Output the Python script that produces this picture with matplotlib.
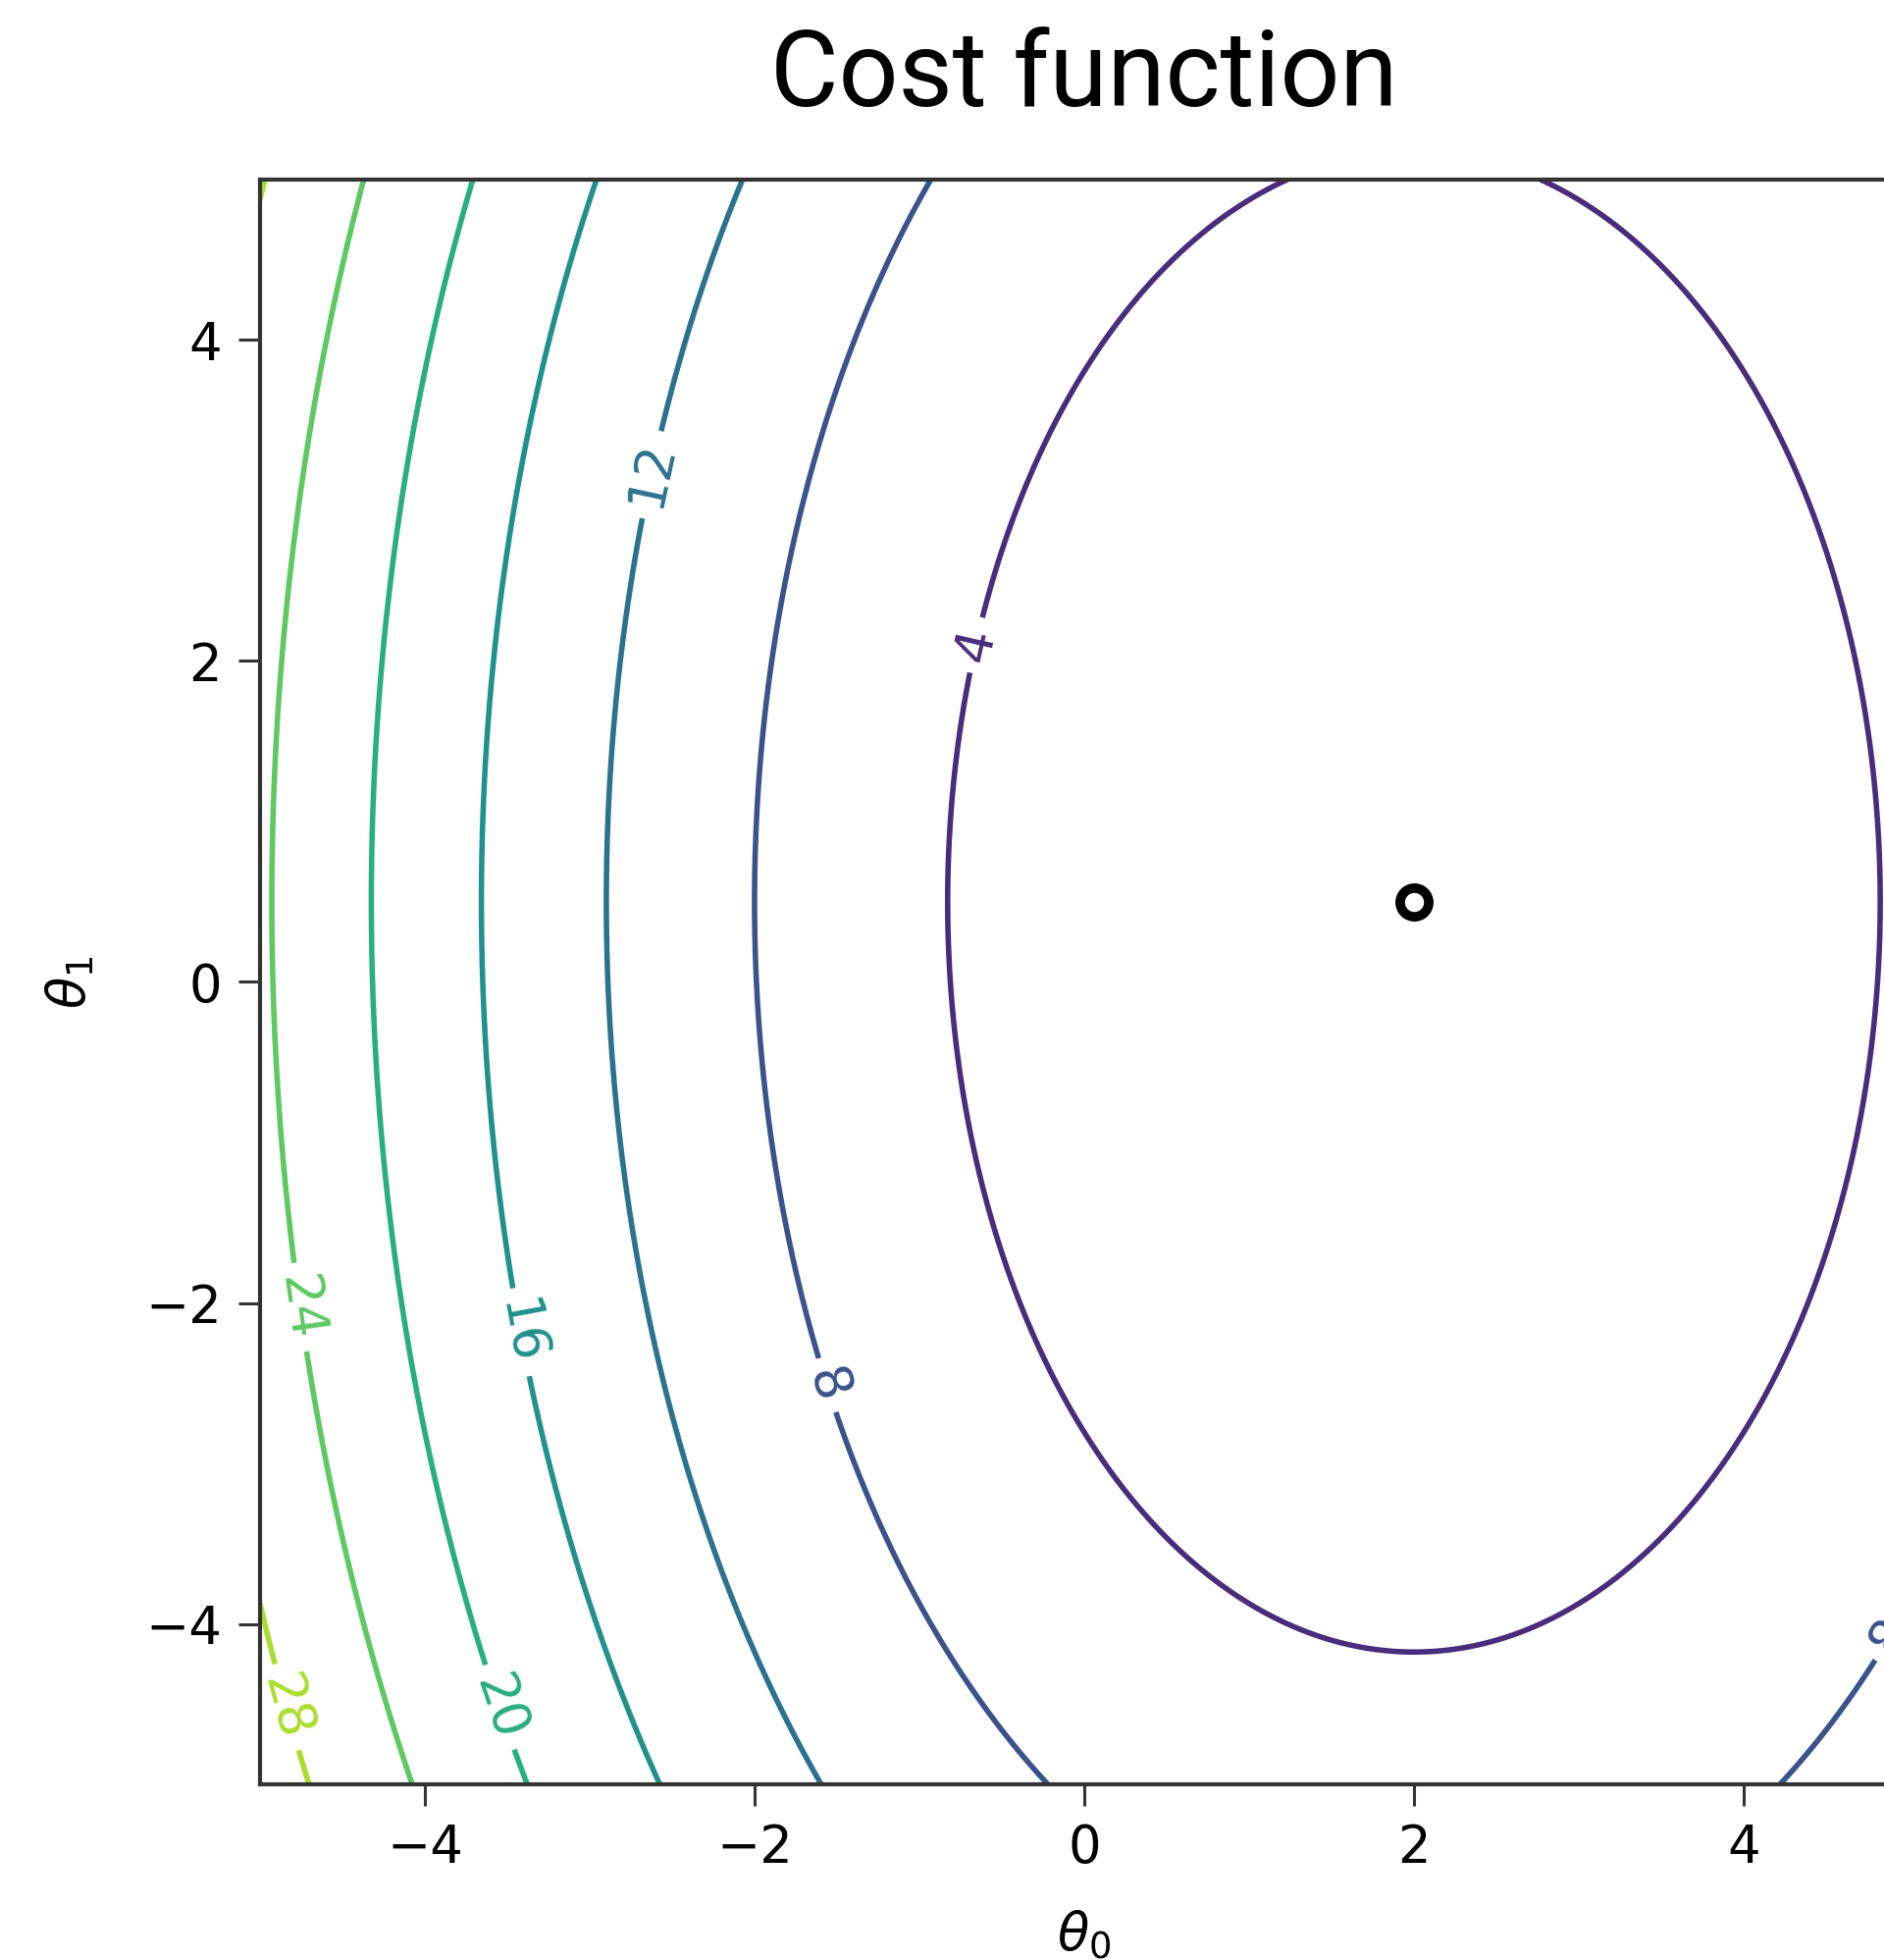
import matplotlib.pyplot as plt
import numpy as np

# cost surface: J = a0*(t0 - c0)^2 + a1*(t1 - c1)^2
theta_min = [2.0, 0.5]
curvature = [0.5, 0.183]
levels = [0, 4, 8, 12, 16, 20, 24, 28, 32]
x_ticks = [-4, -2, 0, 2, 4]
y_ticks = [-4, -2, 0, 2, 4]

# where the inline labels sit (data coords)
label_pos = [(-0.66, 2.1), (-2.62, 3.16), (-1.52, -2.5), (-3.35, -2.17),
             (-3.49, -4.5), (-4.71, -2.02), (-4.77, -4.5), (4.83, -4.04)]

t0 = np.linspace(-5, 5, 401)
t1 = np.linspace(-5, 5, 401)
T0, T1 = np.meshgrid(t0, t1)
J = curvature[0] * (T0 - theta_min[0])**2 + curvature[1] * (T1 - theta_min[1])**2

fig = plt.figure(figsize=(19.2, 19.97), dpi=100)
ax = fig.add_axes([0.138, 0.0896, 0.875, 0.8188])

cs = ax.contour(T0, T1, J, levels=levels, cmap='viridis', vmin=0, vmax=32,
                linewidths=4.0)
ax.clabel(cs, inline=True, fontsize=38, fmt='%d', manual=label_pos,
          inline_spacing=12)

# the minimum
ax.plot(theta_min[0], theta_min[1], 'o', ms=21, mfc='white', mec='black', mew=7)

ax.set_xlim(-5, 5)
ax.set_ylim(-5, 5)
ax.set_xticks(x_ticks)
ax.set_yticks(y_ticks)
ax.tick_params(labelsize=38, length=16, width=2.2, pad=12, color='#333333')
for s in ax.spines.values():
    s.set_linewidth(3)
    s.set_color('#333333')

ax.set_xlabel(r'$\theta_0$', fontsize=38, labelpad=26)
ax.set_ylabel(r'$\theta_1$', fontsize=38, labelpad=36)

fig.text(0.5755, 1 - 108 / 1997, 'Cost function', ha='center', va='baseline',
         fontsize=77, family='Roboto')

fig.savefig('out.png', dpi=100)
